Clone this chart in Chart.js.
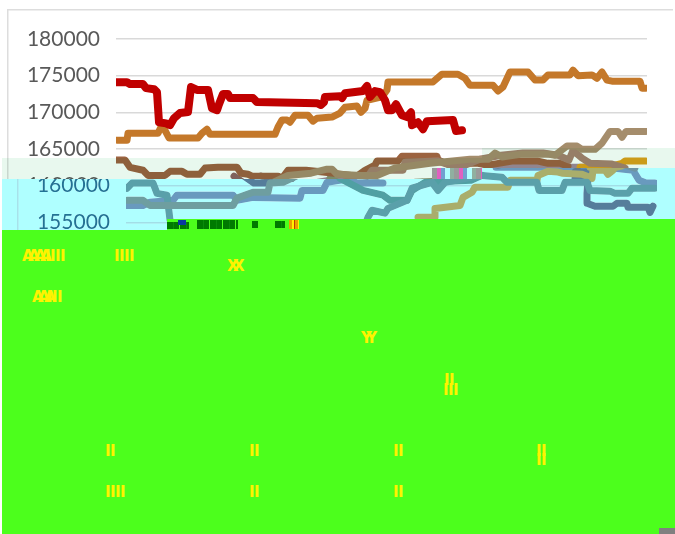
<!DOCTYPE html>
<html><head><meta charset="utf-8">
<style>
html,body{margin:0;padding:0;background:#fff;overflow:hidden}
#wrap{position:relative;width:675px;height:534px;overflow:hidden}
canvas{position:absolute;left:0;top:0}
.b{position:absolute}
.t{position:absolute;color:#FFF200;font:bold 15px "DejaVu Sans";line-height:12px;white-space:pre;letter-spacing:-.6px}
</style>
</head><body>
<div id="wrap"><canvas id="c" width="675" height="534"></canvas></div>
<script src="https://cdn.jsdelivr.net/npm/chart.js@4"></script>
<script>
const tickValues=[180000,175000,170000,165000,160000,155000];

const redX=[0,11,14,27,30,38,41,43,50,54,58,64,72,75,81,92,96,101,103,107,112,114,137,141,201,205,208,209,224,226,229,247,251,254,259,264,269,272,276,280,286,291,295,296,302,307,311,337,340,346];
const redY=[174100,174100,173850,173850,173300,173150,172750,168650,168500,168250,169200,169900,170050,173450,173050,173050,170550,170300,171100,172500,172500,171950,171950,171400,171250,171000,171400,172100,172200,171950,172600,172900,173600,172100,172900,172750,171650,170300,170300,171100,169600,169350,170000,168250,168650,167700,168800,168950,167450,167550];

const orangeX=[1,11,12,42,45,49,53,82,86,91,94,159,162,166,171,174,179,192,197,201,216,224,229,241,245,249,251,266,271,272,317,326,342,349,354,377,382,387,394,412,419,427,432,454,457,462,476,481,486,491,496,524,526,530];
const orangeY=[166200,166200,167150,167150,168000,167550,166500,166500,167150,167700,167000,167000,168000,168950,168950,168650,169600,169600,168800,169200,169350,169900,170700,170850,170000,170550,171650,172100,173050,174150,174150,175200,175200,174650,173700,173700,172900,173450,175500,175500,174400,174400,175100,175100,175750,175000,175100,174650,175500,174400,174250,174250,173300,173300];

const brownX=[1,9,14,27,32,49,54,66,71,84,89,102,121,125,132,136,162,166,172,190,207,241,249,259,261,282,286,321,322,334,342,362,372,396,422,432,444,452];
const brownY=[163500,163500,162500,162100,161400,161400,161950,161950,161550,161550,162400,162500,162500,161700,161550,161300,161300,161000,162100,162100,161850,161300,162100,162800,163350,163350,164000,164000,163500,162800,163050,163050,162800,163350,163350,163050,163050,162650];

const tanX=[1,17,24,107,111,127,142,144,157,172,195,211,216,221,245,261,279,314,354,372,379,386,406,432,439,451,461,466,479,486,494,502,506,510,530];
const tanY=[158000,158000,157300,157300,158300,159100,159100,160350,160450,161400,161700,162250,162250,161550,161400,161400,162400,163050,163600,163600,164450,163900,164300,164300,164150,165400,165400,164950,164950,165800,167400,167400,166600,167400,167400];

const pinkX=[229,252,256,287,289,322,334,349,364,385,407,427,442,453,457,466,474,496,509];
const pinkY=[161400,161300,162100,162100,163200,163350,162800,162800,163600,164150,164450,164450,164150,163500,164800,163750,163050,162950,162400];

const tealX=[1,6,27,31,41,44,49,null,239,242,246,259,262,281,286,306,312,319,356,376,381,411,413,436,439,461,464,484,489,502,506,529];
const tealY=[159650,160350,160350,158950,158700,155300,154600,null,154600,155700,156650,156250,156900,158000,159650,160450,159350,160450,161400,161150,160450,160450,159350,159350,160450,160450,159350,159250,158950,158950,159650,159650];

const greyX=[214,237,257,264,281,286,299,345,356];
const greyY=[161000,159350,158700,158000,158000,159350,160450,160750,161400];

const goldX=[292,309,309,334,337,346,349,382,384,411,412,422,432,436,456,466,467,479,482,487,null,464,490,506,509,530];
const goldY=[155700,155700,156900,157300,158400,159100,159800,159800,160750,160750,161400,161950,161850,161700,161550,161000,162100,162100,161550,162100,null,162500,162500,163050,163350,163350];

const darkX=[118,128,139,145,null,449,464,464,449,462,461,461,469,487,491,501,502,522,524,527];
const darkY=[161300,160350,160350,161300,null,161850,161850,161000,161000,161000,158950,157600,157200,157200,157600,157600,157050,157050,156350,157200];

const blueX=[1,17,24,47,51,107,111,127,174,176,197,201,221,231,257,null,370,480,507,513,520,529];
const blueY=[157300,157300,157750,158000,158700,158700,158000,158400,158300,159350,159350,160450,160900,160350,160350,null,162500,162500,162100,160750,160350,160350];

const seriesColors={red:"#C00000",orange:"#C4782A",tan:"#A58D6C",pink:"#A5826E",brown:"#9C6340",teal:"#918F7B",grey:"#879070",gold:"#E0A01A",dark:"#8C6664",blue:"#A0899A"};

const yellowTexts=[["AAAA",22,250],["IIII",45,250],["IIII",114,250],["XX",227,260],["AAA",32,291],["III",47,291],["YY",361,332],["II",444,374],["III",443,384],["II",105,445],["II",249,445],["II",393,445],["II",536,445],["II",536,454],["IIII",105,486],["II",249,486],["II",393,486]];

function pts(xs,ys){return xs.map((x,i)=>({x:x===null?(xs[i-1]+1):x,y:ys[i]}));}
function ds(label,xs,ys,c,w){return{label,data:pts(xs,ys),borderColor:c,backgroundColor:c,borderWidth:w,pointRadius:0,tension:0,borderJoinStyle:"round",borderCapStyle:"round",spanGaps:false,fill:false};}

const scanPlugin={
 id:"scan",
 beforeDraw(ch){const g=ch.ctx;g.save();g.fillStyle="#fff";g.fillRect(0,0,675,534);g.fillStyle="#DDD";g.fillRect(7,9,666,1.5);g.fillRect(7,9,1.5,525);g.restore();},
 afterDraw(ch){
  const g=ch.ctx,cv=ch.canvas;
  const off=document.createElement("canvas");off.width=675;off.height=534;off.getContext("2d").drawImage(cv,0,0);
  const bands=[[2,179,480,51],[482,168,193,52]];
  bands.forEach(([x,y,w,h])=>{
   g.fillStyle="#fff";g.fillRect(x,y,w,h);
   g.drawImage(off,x-10,y,w,h,x,y,w,h);
   const im=g.getImageData(x,y,w,h),d=im.data;
   for(let i=0;i<d.length;i+=4){
    d[i]=Math.min(175,Math.max(0,d[i]-55));
    d[i+1]=Math.min(255,d[i+1]*0.85+38);
    d[i+2]=Math.min(255,d[i+2]*0.65+90);
   }
   g.putImageData(im,x,y);
  });
  const pales=[[2,158,480,21],[482,148,193,20]];
  g.save();g.globalCompositeOperation="multiply";g.fillStyle="#E8F8EE";
  pales.forEach(([x,y,w,h])=>g.fillRect(x,y,w,h));
  g.restore();
 }
};

new Chart(document.getElementById("c"),{
 type:"line",
 data:{datasets:[
  ds("s1",redX,redY,seriesColors.red,8),
  ds("s2",orangeX,orangeY,seriesColors.orange,7),
  ds("s3",tanX,tanY,seriesColors.tan,7),
  ds("s4",pinkX,pinkY,seriesColors.pink,7),
  ds("s5",brownX,brownY,seriesColors.brown,7),
  ds("s6",tealX,tealY,seriesColors.teal,7),
  ds("s7",greyX,greyY,seriesColors.grey,7),
  ds("s8",goldX,goldY,seriesColors.gold,7),
  ds("s9",darkX,darkY,seriesColors.dark,7),
  ds("s10",blueX,blueY,seriesColors.blue,7)
 ]},
 options:{
  responsive:false,animation:false,
  layout:{padding:{left:0,top:39,right:28,bottom:275}},
  plugins:{legend:{display:false},title:{display:false},tooltip:{enabled:false}},
  scales:{
   x:{type:"linear",display:false,min:0,max:531},
   y:{min:150000,max:180000,
      afterFit(s){s.width=116;},
      afterBuildTicks(s){s.ticks=[...tickValues,150000].map(v=>({value:v}));},
      border:{display:false},
      grid:{color:"#D9D9D9",lineWidth:1.5,drawTicks:false},
      ticks:{color:"#595959",padding:16,font:{family:"Lato",size:21},callback:v=>String(v)}}
  }
 },
 plugins:[scanPlugin]
});

const wrap=document.getElementById("wrap");
function block(x,y,w,h,bg){const e=document.createElement("div");e.className="b";e.style.cssText=`left:${x}px;top:${y}px;width:${w}px;height:${h}px;background:${bg}`;wrap.appendChild(e);}
const greenFill="#4CFF1C";
block(2,230,673,304,greenFill);
block(167,219,508,11,greenFill);
const darkGarble="repeating-linear-gradient(90deg,#007A00 0 6px,#0a8a0a 6px 7px,#007A00 7px 12px,"+greenFill+" 12px 13px)";
block(167,222,22,7,darkGarble);
block(178,220,8,5,"#0a3aa0");
block(197,220,41,9,darkGarble);
block(252,221,6,7,"#007A00");
block(275,221,10,7,darkGarble);
block(289,220,10,9,"repeating-linear-gradient(90deg,#e8a000 0 3px,#FFF200 3px 5px,#c04000 5px 6px)");
block(432,168,50,11,"repeating-linear-gradient(90deg,#9a9a9a 0 5px,#e060c0 5px 9px,#70a0d0 9px 13px,#b0ffff 13px 18px,#90b0a0 18px 22px)");
block(659,528,16,6,"#808080");
yellowTexts.forEach(([s,x,y])=>{const e=document.createElement("div");e.className="t";e.textContent=s;e.style.left=x+"px";e.style.top=y+"px";if(s[0]!=="I")e.style.letterSpacing="-5.5px";wrap.appendChild(e);});
</script>
</body></html>
